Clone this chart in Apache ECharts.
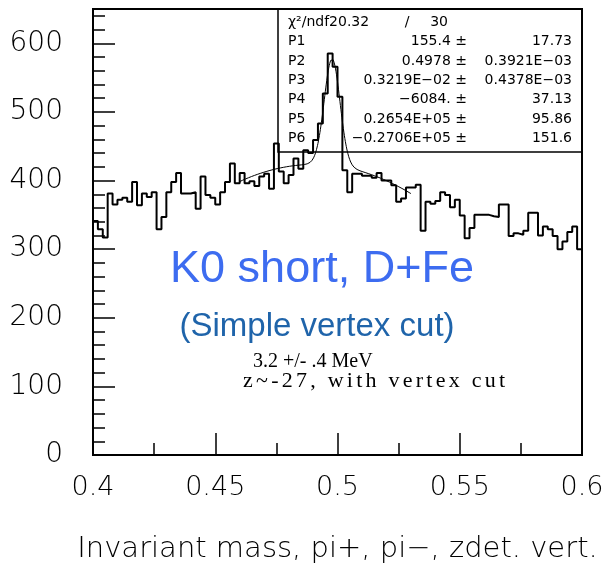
<!DOCTYPE html>
<html>
<head>
<meta charset="utf-8">
<script src="https://cdn.jsdelivr.net/npm/echarts@6/dist/echarts.min.js"></script>
<style>
  html, body { margin: 0; padding: 0; background: #fff; }
  #c { width: 607px; height: 573px; }
</style>
</head>
<body>
<div id="c"></div>
<script>
// pi+ pi- invariant mass histogram: 100 bins of 0.002 between 0.4 and 0.6
const massLow = 0.4;
const massHigh = 0.6;
const binWidth = 0.002;
const counts = [
  341, 329, 317, 381, 365, 372, 375, 369, 398, 364,
  381, 376, 383, 329, 347, 383, 398, 411, 381, 381,
  383, 359, 406, 379, 375, 365, 383, 398, 425, 396,
  411, 396, 399, 392, 406, 410, 388, 454, 413, 396,
  408, 432, 417, 444, 440, 459, 483, 527, 585, 566,
  522, 415, 383, 410, 410, 407, 407, 404, 411, 400,
  400, 393, 369, 374, 390, 390, 394, 327, 369, 366,
  370, 383, 379, 361, 372, 349, 316, 331, 350, 350,
  350, 348, 347, 365, 365, 319, 323, 321, 327, 353,
  353, 320, 333, 329, 319, 300, 311, 325, 333, 300
];

// Fit: Gaussian (P1 amplitude, P2 mean, P3 sigma) + quadratic background (P4 + P5 x + P6 x^2)
const fitParams = [155.4, 0.4978, 0.3219e-2, -6084, 0.2654e5, -0.2706e5];
const fitRange = [0.46, 0.53];

// Statistics box rows
const chiRow = ['χ²/ndf20.32', '/', '30'];
const statNames = ['P1', 'P2', 'P3', 'P4', 'P5', 'P6'];
const statValues = ['155.4 ±', '0.4978 ±', '0.3219E−02 ±', '−6084. ±', '0.2654E+05 ±', '−0.2706E+05 ±'];
const statErrors = ['17.73', '0.3921E−03', '0.4378E−03', '37.13', '95.86', '151.6'];

// Axis settings
const xTickStep = 0.05;
const yMax = 650;
const yMajorStep = 100;
const yMinorStep = 20;
const xTitle = 'Invariant mass, pi+, pi−, zdet. vert.';

// Annotations
const mainLabel = 'K0 short, D+Fe';
const subLabel = '(Simple vertex cut)';
const noteLines = ['3.2 +/- .4 MeV', 'z~-27, with vertex cut'];

// Build step outline: each bin edge carries that bin's count
const histData = counts.map((v, i) => [massLow + i * binWidth, v]);
histData.push([massLow + counts.length * binWidth, counts[counts.length - 1]]);

function fitValue(x) {
  const [amp, mean, sigma, p0, p1, p2] = fitParams;
  const z = (x - mean) / sigma;
  return amp * Math.exp(-0.5 * z * z) + p0 + p1 * x + p2 * x * x;
}
const fitData = [];
for (let x = fitRange[0]; x <= fitRange[1] + 1e-9; x += 0.0002) {
  fitData.push([x, fitValue(x)]);
}

const axisFont = 'DejaVu Sans';
const axisWeight = 200;
const black = '#000';

const chart = echarts.init(document.getElementById('c'));

const statFont = '14px "DejaVu Sans"';
const statGraphics = [
  { type: 'rect', shape: { x: 278, y: 9, width: 304, height: 143 },
    style: { fill: 'none', stroke: black, lineWidth: 1.5 }, z: 5 },
  { type: 'text', x: 288, y: 22, style: { text: chiRow[0], font: statFont, fill: black, align: 'left', verticalAlign: 'middle' }, z: 6 },
  { type: 'text', x: 407, y: 22, style: { text: chiRow[1], font: statFont, fill: black, align: 'center', verticalAlign: 'middle' }, z: 6 },
  { type: 'text', x: 448, y: 22, style: { text: chiRow[2], font: statFont, fill: black, align: 'right', verticalAlign: 'middle' }, z: 6 }
];
statNames.forEach((name, i) => {
  const y = 41.7 + i * 19.3;
  statGraphics.push(
    { type: 'text', x: 288, y, style: { text: name, font: statFont, fill: black, align: 'left', verticalAlign: 'middle' }, z: 6 },
    { type: 'text', x: 467, y, style: { text: statValues[i], font: statFont, fill: black, align: 'right', verticalAlign: 'middle' }, z: 6 },
    { type: 'text', x: 572, y, style: { text: statErrors[i], font: statFont, fill: black, align: 'right', verticalAlign: 'middle' }, z: 6 }
  );
});

// Letter-spaced line of text, laid out glyph by glyph across a given width
const noteFont = '20px "Liberation Serif"';
const noteFontWide = '22px "Liberation Serif"';
const measureCtx = document.createElement('canvas').getContext('2d');
function spacedText(str, font, x0, y, totalWidth) {
  measureCtx.font = font;
  const chars = Array.from(str);
  const widths = chars.map(ch => measureCtx.measureText(ch).width);
  const natural = widths.reduce((a, b) => a + b, 0);
  const gap = (totalWidth - natural) / (chars.length - 1);
  let x = x0;
  return chars.map((ch, i) => {
    const el = { type: 'text', x, y, style: { text: ch, font, fill: black, align: 'left', verticalAlign: 'middle' }, z: 6 };
    x += widths[i] + gap;
    return el;
  });
}

const labelGraphics = [
  { type: 'text', x: 322, y: 270, style: { text: mainLabel, font: '45px "Liberation Sans"', fill: '#3d6cf0', align: 'center', verticalAlign: 'middle' }, z: 6 },
  { type: 'text', x: 317, y: 327, style: { text: subLabel, font: '33px "Liberation Sans"', fill: '#1f64aa', align: 'center', verticalAlign: 'middle' }, z: 6 },
  { type: 'text', x: 253, y: 362, style: { text: noteLines[0], font: noteFont, fill: black, align: 'left', verticalAlign: 'middle' }, z: 6 }
].concat(spacedText(noteLines[1], noteFontWide, 243, 381, 262));

chart.setOption({
  animation: false,
  backgroundColor: '#fff',
  grid: { left: 93, right: 25, top: 9, bottom: 118, outerBoundsMode: 'none', containLabel: false,
    show: true, borderColor: black, borderWidth: 2, backgroundColor: 'transparent' },
  xAxis: [{
    type: 'value', min: massLow, max: massHigh, interval: xTickStep,
    axisLine: { lineStyle: { color: black, width: 2 } },
    axisTick: { inside: true, length: 22, lineStyle: { color: black, width: 1.5 } },
    minorTick: { show: true, splitNumber: 2, length: 12, lineStyle: { color: black, width: 1.5 } },
    splitLine: { show: false },
    axisLabel: { margin: 19, color: black, fontFamily: axisFont, fontWeight: axisWeight, fontSize: 27,
      formatter: v => String(+v.toFixed(3)) },
    name: xTitle, nameLocation: 'middle', nameGap: 80,
    nameTextStyle: { color: black, fontFamily: axisFont, fontWeight: axisWeight, fontSize: 29 }
  }],
  yAxis: [{
    type: 'value', min: 0, max: yMax, interval: yMajorStep, position: 'left',
    axisLine: { lineStyle: { color: black, width: 2 } },
    axisTick: { inside: true, length: 22, lineStyle: { color: black, width: 1.5 } },
    splitLine: { show: false },
    axisLabel: { margin: 30, color: black, fontFamily: axisFont, fontWeight: axisWeight, fontSize: 28, showMaxLabel: false,
      formatter: v => (v % yMajorStep === 0 ? String(v) : '') }
  }, {
    type: 'value', min: 0, max: yMax, interval: yMinorStep, position: 'left', offset: 0,
    axisLine: { show: false },
    axisTick: { inside: true, length: 12, lineStyle: { color: black, width: 1.5 } },
    splitLine: { show: false },
    axisLabel: { show: false }
  }],
  series: [{
    type: 'line', step: 'end', data: histData, symbol: 'none',
    xAxisIndex: 0, yAxisIndex: 0,
    lineStyle: { color: black, width: 2 }, z: 3
  }, {
    type: 'line', data: fitData, symbol: 'none', smooth: false,
    xAxisIndex: 0, yAxisIndex: 0,
    lineStyle: { color: black, width: 1 }, z: 4
  }],
  graphic: statGraphics.concat(labelGraphics)
});
</script>
</body>
</html>
